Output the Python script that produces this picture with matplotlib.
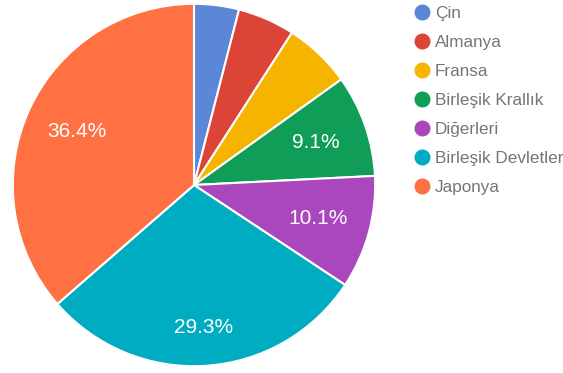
import matplotlib.pyplot as plt
from matplotlib.lines import Line2D

labels = ['Çin', 'Almanya', 'Fransa', 'Birleşik Krallık', 'Diğerleri',
          'Birleşik Devletler', 'Japonya']
values = [4.0, 5.1, 6.0, 9.1, 10.1, 29.3, 36.4]
colors = ['#5b87d8', '#db4437', '#f4b400', '#0f9d58', '#ab47bc', '#00acc1', '#ff7043']

plt.rcParams['font.family'] = ['Liberation Sans', 'DejaVu Sans']

fig = plt.figure(figsize=(5.63, 3.73), dpi=100)
# pie occupies a square of ~366 px on the left
ax = fig.add_axes([11 / 563, 5 / 373, 366 / 563, 366 / 373])

wedges, texts, autotexts = ax.pie(
    values, colors=colors, startangle=90, counterclock=False,
    autopct=lambda p: '%.1f%%' % p if p >= 9 else '',
    pctdistance=0.71,
    wedgeprops=dict(edgecolor='white', linewidth=1.5),
    textprops=dict(color='white', fontsize=15))
# the big bottom label sits a bit further out
x, y = autotexts[5].get_position()
autotexts[5].set_position((x * 0.79 / 0.71, y * 0.79 / 0.71))
ax.set_xlim(-1.01, 1.01)
ax.set_ylim(-1.01, 1.01)
ax.set_aspect('equal')

handles = [Line2D([], [], marker='o', linestyle='', markersize=10.5,
                  markerfacecolor=c, markeredgecolor=c) for c in colors]
leg = fig.legend(handles, labels, loc='upper left',
                 bbox_to_anchor=(404 / 563, 1 + 1 / 373),
                 frameon=False, fontsize=12.3, labelspacing=0.82,
                 handletextpad=0.1, handlelength=1.3, borderaxespad=0)
for t in leg.get_texts():
    t.set_color('#757575')

fig.savefig('out.png', dpi=100)
